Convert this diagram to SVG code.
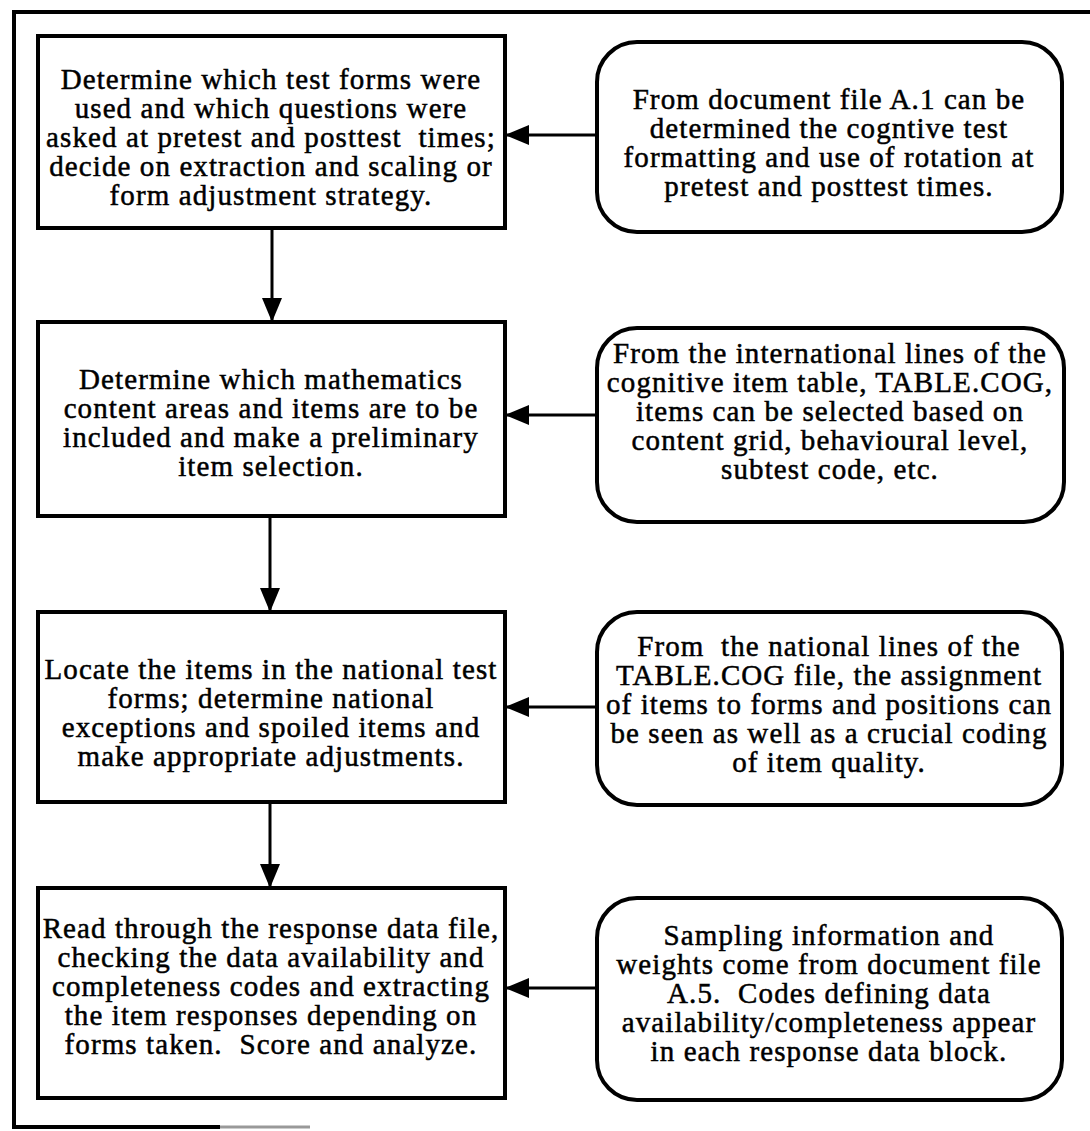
<svg xmlns="http://www.w3.org/2000/svg" width="1090" height="1131" viewBox="0 0 1090 1131">
<style>
.box{fill:#fff;stroke:#000;stroke-width:4}
.frame{fill:none;stroke:#000;stroke-width:4}
.t{font-family:"Liberation Serif","Times New Roman",serif;font-size:29px;letter-spacing:1.1px;fill:#000;text-anchor:middle;white-space:pre;stroke:#000;stroke-width:0.5}
.c{stroke:#000;stroke-width:3;fill:none}
</style>
<defs>
<marker id="ah" viewBox="0 0 24 20" refX="24" refY="10" markerWidth="24" markerHeight="20" markerUnits="userSpaceOnUse" orient="auto">
<path d="M0,0 L24,10 L0,20 Z" fill="#000"/>
</marker>
</defs>
<rect width="1090" height="1131" fill="#fff"/>
<g id="frame">
<path class="frame" d="M1090,12 L14,12 L14,1127 L220,1127"/>
<path d="M220,1127 L310,1127" stroke="#999" stroke-width="3"/>
</g>
<g id="connectors">
<path class="c" d="M272,228 L272,322" marker-end="url(#ah)"/>
<path class="c" d="M270,516 L270,612" marker-end="url(#ah)"/>
<path class="c" d="M270,802 L270,888" marker-end="url(#ah)"/>
<path class="c" d="M597,135 L505,135" marker-end="url(#ah)"/>
<path class="c" d="M597,415 L505,415" marker-end="url(#ah)"/>
<path class="c" d="M597,707 L505,707" marker-end="url(#ah)"/>
<path class="c" d="M597,988 L505,988" marker-end="url(#ah)"/>
</g>
<g id="step1">
<rect class="box" x="38" y="36" width="467" height="192"/>
<text class="t"><tspan x="271" y="89">Determine which test forms were</tspan><tspan x="271" y="118">used and which questions were</tspan><tspan x="271" y="147">asked at pretest and posttest  times;</tspan><tspan x="271" y="176">decide on extraction and scaling or</tspan><tspan x="271" y="205">form adjustment strategy.</tspan></text>
</g>
<g id="step2">
<rect class="box" x="38" y="322" width="467" height="194"/>
<text class="t"><tspan x="271" y="389">Determine which mathematics</tspan><tspan x="271" y="418">content areas and items are to be</tspan><tspan x="271" y="447">included and make a preliminary</tspan><tspan x="271" y="476">item selection.</tspan></text>
</g>
<g id="step3">
<rect class="box" x="38" y="612" width="467" height="190"/>
<text class="t"><tspan x="271" y="679">Locate the items in the national test</tspan><tspan x="271" y="708">forms; determine national</tspan><tspan x="271" y="737">exceptions and spoiled items and</tspan><tspan x="271" y="766">make appropriate adjustments.</tspan></text>
</g>
<g id="step4">
<rect class="box" x="38" y="888" width="467" height="210"/>
<text class="t"><tspan x="271" y="938">Read through the response data file,</tspan><tspan x="271" y="967">checking the data availability and</tspan><tspan x="271" y="996">completeness codes and extracting</tspan><tspan x="271" y="1025">the item responses depending on</tspan><tspan x="271" y="1054">forms taken.  Score and analyze.</tspan></text>
</g>
<g id="info1">
<rect class="box" x="597" y="42" width="465" height="190" rx="40"/>
<text class="t"><tspan x="829" y="109">From document file A.1 can be</tspan><tspan x="829" y="138">determined the cogntive test</tspan><tspan x="829" y="167">formatting and use of rotation at</tspan><tspan x="829" y="196">pretest and posttest times.</tspan></text>
</g>
<g id="info2">
<rect class="box" x="597" y="328" width="467" height="194" rx="40"/>
<text class="t"><tspan x="830" y="363">From the international lines of the</tspan><tspan x="830" y="392">cognitive item table, TABLE.COG,</tspan><tspan x="830" y="421">items can be selected based on</tspan><tspan x="830" y="450">content grid, behavioural level,</tspan><tspan x="830" y="479">subtest code, etc.</tspan></text>
</g>
<g id="info3">
<rect class="box" x="597" y="612" width="465" height="193" rx="40"/>
<text class="t"><tspan x="829" y="656">From  the national lines of the</tspan><tspan x="829" y="685">TABLE.COG file, the assignment</tspan><tspan x="829" y="714">of items to forms and positions can</tspan><tspan x="829" y="743">be seen as well as a crucial coding</tspan><tspan x="829" y="772">of item quality.</tspan></text>
</g>
<g id="info4">
<rect class="box" x="597" y="898" width="465" height="202" rx="40"/>
<text class="t"><tspan x="829" y="945">Sampling information and</tspan><tspan x="829" y="974">weights come from document file</tspan><tspan x="829" y="1003">A.5.  Codes defining data</tspan><tspan x="829" y="1032">availability/completeness appear</tspan><tspan x="829" y="1061">in each response data block.</tspan></text>
</g>
</svg>
